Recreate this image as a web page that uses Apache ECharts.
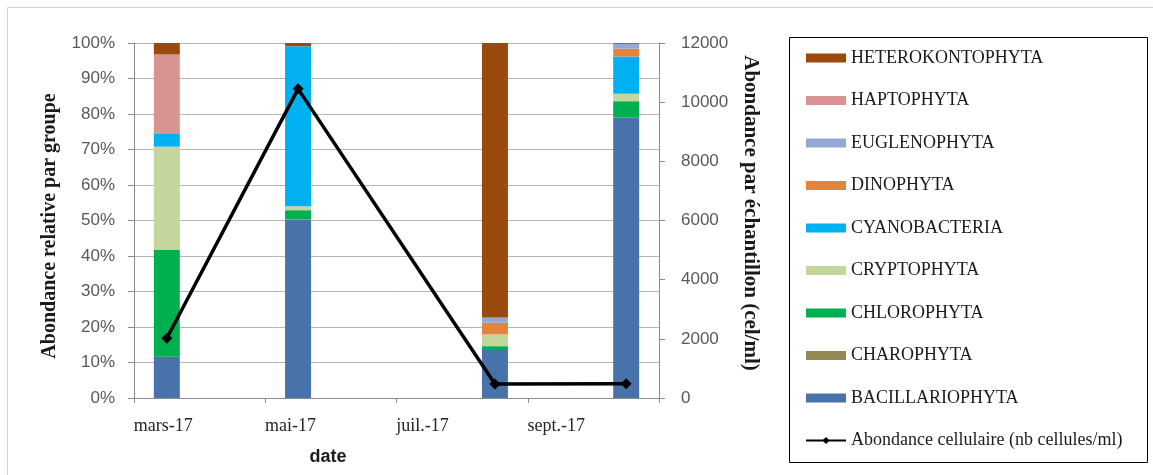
<!DOCTYPE html>
<html>
<head>
<meta charset="utf-8">
<script src="https://cdn.jsdelivr.net/npm/echarts@6/dist/echarts.min.js"></script>
<style>
  html, body { margin: 0; padding: 0; background: #ffffff; }
  #chart { width: 1153px; height: 475px; }
</style>
</head>
<body>
<div id="chart"></div>
<script>
// Monthly date axis (one slot per month) and the four sampling months
const months = ['mars-17', 'avr.-17', 'mai-17', 'juin-17', 'juil.-17', 'août-17', 'sept.-17', 'oct.-17'];
const sampleMonths = ['mars-17', 'mai-17', 'août-17', 'oct.-17'];

// Relative abundance per group (%) for each sample
const bacillariophyta  = [11.6, 50.3, 13.5, 79.0];
const charophyta       = [0, 0, 0, 0];
const chlorophyta      = [30.1, 2.6, 1.1, 4.6];
const cryptophyta      = [29.1, 1.1, 3.3, 2.1];
const cyanobacteria    = [3.6, 45.1, 0, 10.5];
const dinophyta        = [0, 0, 3.3, 2.2];
const euglenophyta     = [0, 0, 1.5, 1.4];
const haptophyta       = [22.4, 0, 0, 0];
const heterokontophyta = [3.2, 0.9, 77.3, 0.2];

// Total cell abundance (cells/ml)
const abondance = [2020, 10450, 470, 480];

// Axis titles
const xTitle = 'date';
const yLeftTitle = 'Abondance relative par groupe';
const yRightTitle = 'Abondance par échantillon (cel/ml)';
const lineName = 'Abondance cellulaire (nb cellules/ml)';

// Stack order from bottom to top
const groups = [
  { name: 'BACILLARIOPHYTA',  values: bacillariophyta,  color: '#4772AA' },
  { name: 'CHAROPHYTA',       values: charophyta,       color: '#938953' },
  { name: 'CHLOROPHYTA',      values: chlorophyta,      color: '#00B050' },
  { name: 'CRYPTOPHYTA',      values: cryptophyta,      color: '#C3D69B' },
  { name: 'CYANOBACTERIA',    values: cyanobacteria,    color: '#00B0F0' },
  { name: 'DINOPHYTA',        values: dinophyta,        color: '#E4843C' },
  { name: 'EUGLENOPHYTA',     values: euglenophyta,     color: '#95A8D4' },
  { name: 'HAPTOPHYTA',       values: haptophyta,       color: '#D89493' },
  { name: 'HETEROKONTOPHYTA', values: heterokontophyta, color: '#9A4A0C' }
];

// Spread sample values onto the monthly axis
function toMonths(values) {
  return months.map(m => {
    const i = sampleMonths.indexOf(m);
    return i >= 0 ? values[i] : '-';
  });
}

const serif = '"Liberation Serif", "DejaVu Serif", serif';
const sans = '"Liberation Sans", Arial, sans-serif';

const series = groups.map(g => ({
  name: g.name,
  type: 'bar',
  stack: 'groupes',
  yAxisIndex: 0,
  barWidth: 26,
  itemStyle: { color: g.color },
  data: toMonths(g.values)
}));

series.push({
  name: lineName,
  type: 'line',
  yAxisIndex: 1,
  connectNulls: true,
  symbol: 'diamond',
  symbolSize: 11,
  lineStyle: { color: '#000000', width: 3.5 },
  itemStyle: { color: '#000000' },
  data: toMonths(abondance),
  z: 5
});

const legendData = groups.slice().reverse().map(g => ({ name: g.name, icon: 'rect' }));
legendData.push({ name: lineName });

const chart = echarts.init(document.getElementById('chart'), null, { renderer: 'canvas' });

chart.setOption({
  backgroundColor: '#ffffff',
  animation: false,
  grid: { left: 134, right: 494, top: 43, bottom: 77, containLabel: false },
  xAxis: {
    type: 'category',
    data: months,
    boundaryGap: true,
    axisLine: { lineStyle: { color: '#8C8C8C', width: 1 } },
    axisTick: { show: true, interval: 1, length: 5, lineStyle: { color: '#8C8C8C' } },
    axisLabel: {
      interval: 1,
      margin: 19,
      color: '#262626',
      fontFamily: serif,
      fontSize: 18,
      formatter: v => '{a|' + v + '}',
      rich: { a: { width: 66, align: 'left', fontFamily: serif, fontSize: 18, color: '#262626' } }
    },
    splitLine: { show: false }
  },
  yAxis: [
    {
      type: 'value',
      min: 0,
      max: 100,
      interval: 10,
      position: 'left',
      axisLine: { show: true, lineStyle: { color: '#8C8C8C' } },
      axisTick: { show: true, length: 6, lineStyle: { color: '#8C8C8C' } },
      axisLabel: { formatter: '{value}%', color: '#595959', fontFamily: sans, fontSize: 17, margin: 19 },
      splitLine: { show: true, lineStyle: { color: '#B5B5B5', width: 1 } }
    },
    {
      type: 'value',
      min: 0,
      max: 12000,
      interval: 2000,
      position: 'right',
      axisLine: { show: true, lineStyle: { color: '#8C8C8C' } },
      axisTick: { show: true, length: 6, lineStyle: { color: '#8C8C8C' } },
      axisLabel: { formatter: v => String(v), color: '#595959', fontFamily: sans, fontSize: 17, margin: 22 },
      splitLine: { show: false }
    }
  ],
  legend: {
    orient: 'vertical',
    left: 805,
    top: 48,
    padding: 0,
    itemWidth: 40,
    itemHeight: 9,
    itemGap: 22.5,
    textStyle: { fontFamily: serif, fontSize: 18, color: '#1a1a1a', lineHeight: 20 },
    data: legendData
  },
  graphic: [
    // chart area frame
    { type: 'line', shape: { x1: 7.5, y1: 7.5, x2: 7.5, y2: 475 }, style: { stroke: '#D0D0D0', lineWidth: 1 }, silent: true },
    { type: 'line', shape: { x1: 7.5, y1: 7.5, x2: 1153, y2: 7.5 }, style: { stroke: '#D0D0D0', lineWidth: 1 }, silent: true },
    // legend frame
    { type: 'rect', shape: { x: 789.5, y: 37.5, width: 358, height: 425 }, style: { fill: 'none', stroke: '#000000', lineWidth: 1 }, silent: true },
    {
      type: 'text', x: 50, y: 226, rotation: Math.PI / 2,
      style: { text: yLeftTitle, font: 'bold 20px ' + serif, fill: '#1a1a1a', textAlign: 'center', textVerticalAlign: 'middle' }
    },
    {
      type: 'text', x: 750, y: 213, rotation: -Math.PI / 2,
      style: { text: yRightTitle, font: 'bold 21px ' + serif, fill: '#1a1a1a', textAlign: 'center', textVerticalAlign: 'middle' }
    },
    {
      type: 'text', x: 328, y: 457,
      style: { text: xTitle, font: 'bold 18px ' + sans, fill: '#1a1a1a', textAlign: 'center', textVerticalAlign: 'middle' }
    }
  ],
  series: series
});
</script>
</body>
</html>
